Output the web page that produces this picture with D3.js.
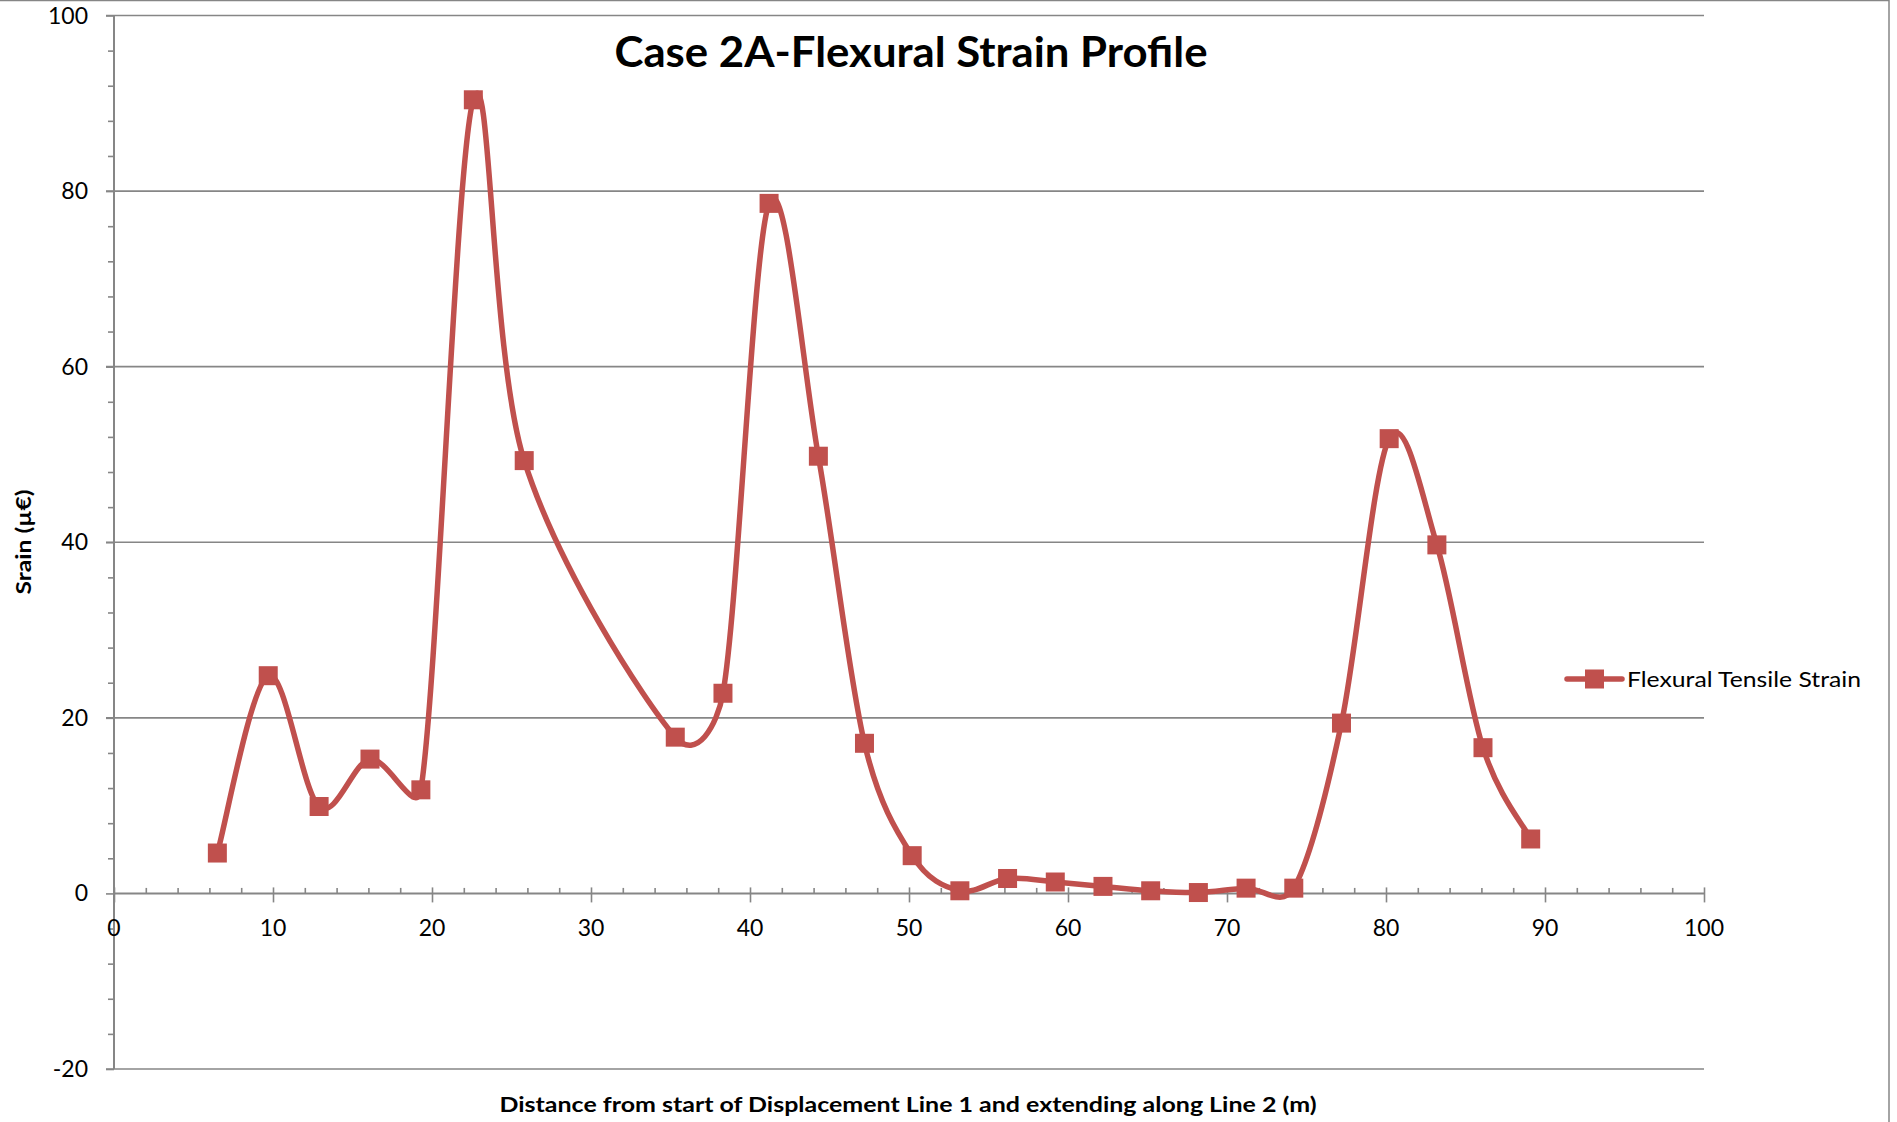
<!DOCTYPE html>
<html lang="en">
<head>
  <meta charset="UTF-8" />
  <title>Case 2A-Flexural Strain Profile</title>
  <script src="https://d3js.org/d3.v7.min.js"></script>
  <style>
    body {
      margin: 0;
      background: #fff;
      font-family: Lato, "Open Sans", sans-serif;
    }

    svg {
      display: block;
    }

    text {
      fill: #000;
    }
  </style>
</head>

<body>
  <svg id="chart"></svg>

  <script>
    // distance along line (m)
    const distance = [6.5, 9.7, 12.9, 16.1, 19.3, 22.6, 25.8, 35.3, 38.3, 41.2, 44.3, 47.2, 50.2,
      53.2, 56.2, 59.2, 62.2, 65.2, 68.2, 71.2, 74.2, 77.2, 80.2, 83.2, 86.1, 89.1];
    // flexural tensile strain (µ€)
    const strain = [4.6, 24.8, 9.9, 15.3, 11.8, 90.4, 49.3, 17.8, 22.8, 78.6, 49.8, 17.1, 4.3,
      0.3, 1.7, 1.3, 0.8, 0.3, 0.1, 0.6, 0.6, 19.4, 51.8, 39.7, 16.6, 6.2];

    const xTicks = [0, 10, 20, 30, 40, 50, 60, 70, 80, 90, 100];
    const yTicks = [-20, 0, 20, 40, 60, 80, 100];

    const seriesName = "Flexural Tensile Strain";
    const chartTitle = "Case 2A-Flexural Strain Profile";
    const xTitle = "Distance from start of Displacement Line 1 and extending along Line 2 (m)";
    const yTitle = "Srain (µ€)";

    const W = 1897, H = 1122;
    const plotL = 114, plotR = 1704, plotT = 15.5, plotB = 1069;
    const red = "#C0504D", axisGrey = "#868686";

    const svg = d3.select("#chart").attr("width", W).attr("height", H);

    const x = d3.scaleLinear().domain([0, 100]).range([plotL, plotR]);
    const y = d3.scaleLinear().domain([-20, 100]).range([plotB, plotT]);

    // Excel-style smoothed line: bezier handles of 1/6 the chord,
    // capped at half the segment length so short segments don't overshoot
    function smoothPath(pts) {
      const p = d3.path();
      const n = pts.length;
      const dist = (a, b) => Math.hypot(b[0] - a[0], b[1] - a[1]);
      p.moveTo(pts[0][0], pts[0][1]);
      for (let i = 0; i < n - 1; i++) {
        const p0 = pts[Math.max(i - 1, 0)], p1 = pts[i], p2 = pts[i + 1], p3 = pts[Math.min(i + 2, n - 1)];
        const d02 = dist(p0, p2), d12 = dist(p1, p2), d13 = dist(p1, p3);
        let f1 = 1 / 6, f2 = 1 / 6;
        if (d02 / 6 > d12 / 2) f1 = d02 ? d12 / 2 / d02 : 0;
        if (d13 / 6 > d12 / 2) f2 = d13 ? d12 / 2 / d13 : 0;
        p.bezierCurveTo(
          p1[0] + (p2[0] - p0[0]) * f1, p1[1] + (p2[1] - p0[1]) * f1,
          p2[0] - (p3[0] - p1[0]) * f2, p2[1] - (p3[1] - p1[1]) * f2,
          p2[0], p2[1]);
      }
      return p.toString();
    }

    // outer chart frame (top + right edges visible)
    svg.append("rect")
      .attr("x", -2).attr("y", 0.5)
      .attr("width", 1891).attr("height", H + 10)
      .attr("fill", "none").attr("stroke", axisGrey).attr("stroke-width", 1.5);

    // horizontal gridlines
    svg.append("g")
      .selectAll("line")
      .data(yTicks.filter(d => d !== 0))
      .join("line")
      .attr("x1", plotL - 8).attr("x2", plotR)
      .attr("y1", d => y(d)).attr("y2", d => y(d))
      .attr("stroke", axisGrey).attr("stroke-width", 1.6);

    // y axis: major ticks + minor ticks every 4
    const yAxis = svg.append("g").attr("transform", `translate(${plotL},0)`)
      .call(d3.axisLeft(y).tickValues(d3.range(-20, 101, 4)).tickSize(6).tickFormat(""));
    yAxis.select(".domain").remove();
    yAxis.selectAll("line").attr("stroke", axisGrey).attr("stroke-width", 1.6);
    yAxis.selectAll(".tick").filter(d => d % 20 === 0).select("line").attr("x2", -8);

    svg.append("line")
      .attr("x1", plotL).attr("x2", plotL).attr("y1", plotT).attr("y2", plotB)
      .attr("stroke", axisGrey).attr("stroke-width", 2);

    svg.append("g")
      .selectAll("text")
      .data(yTicks)
      .join("text")
      .attr("x", 88).attr("y", d => y(d))
      .attr("dy", "0.35em")
      .attr("text-anchor", "end")
      .attr("font-size", 23)
      .text(d => d);

    // x axis at zero: minor ticks (inside) every 2, majors cross the axis
    const xAxis = svg.append("g").attr("transform", `translate(0,${y(0)})`)
      .call(d3.axisTop(x).tickValues(d3.range(0, 101, 2)).tickSize(5.5).tickFormat(""));
    xAxis.select(".domain").remove();
    xAxis.selectAll("line").attr("stroke", axisGrey).attr("stroke-width", 1.6);
    xAxis.selectAll(".tick").filter(d => d % 10 === 0).select("line")
      .attr("y1", 9).attr("y2", -6);

    svg.append("line")
      .attr("x1", plotL).attr("x2", plotR).attr("y1", y(0)).attr("y2", y(0))
      .attr("stroke", axisGrey).attr("stroke-width", 2);

    svg.append("g")
      .selectAll("text")
      .data(xTicks)
      .join("text")
      .attr("x", d => x(d)).attr("y", 936)
      .attr("text-anchor", "middle")
      .attr("font-size", 23)
      .text(d => d);

    // series
    const points = distance.map((d, i) => [d, strain[i]]);
    const pixelPts = points.map(d => [x(d[0]), y(d[1])]);

    svg.append("path")
      .attr("d", smoothPath(pixelPts))
      .attr("fill", "none")
      .attr("stroke", red)
      .attr("stroke-width", 5.5)
      .attr("stroke-linejoin", "round")
      .attr("stroke-linecap", "round");

    const ms = 19;
    svg.append("g")
      .selectAll("rect")
      .data(points)
      .join("rect")
      .attr("x", d => x(d[0]) - ms / 2)
      .attr("y", d => y(d[1]) - ms / 2)
      .attr("width", ms).attr("height", ms)
      .attr("fill", red);

    // titles
    svg.append("text")
      .attr("x", 911).attr("y", 67)
      .attr("text-anchor", "middle")
      .attr("font-size", 42).attr("font-weight", "bold")
      .attr("textLength", 593).attr("lengthAdjust", "spacingAndGlyphs")
      .text(chartTitle);

    svg.append("text")
      .attr("x", 908).attr("y", 1112)
      .attr("text-anchor", "middle")
      .attr("font-size", 21).attr("font-weight", "bold")
      .attr("textLength", 817).attr("lengthAdjust", "spacingAndGlyphs")
      .text(xTitle);

    svg.append("text")
      .attr("transform", "translate(31,542) rotate(-90)")
      .attr("text-anchor", "middle")
      .attr("font-size", 21).attr("font-weight", "bold")
      .attr("textLength", 105).attr("lengthAdjust", "spacingAndGlyphs")
      .text(yTitle);

    // legend
    const lg = svg.append("g").attr("transform", "translate(1567,679)");
    lg.append("line")
      .attr("x1", 0).attr("x2", 55)
      .attr("stroke", red).attr("stroke-width", 5.5).attr("stroke-linecap", "round");
    lg.append("rect")
      .attr("x", 27.5 - 9.5).attr("y", -9.5).attr("width", 19).attr("height", 19)
      .attr("fill", red);
    lg.append("text")
      .attr("x", 60).attr("dy", "0.35em")
      .attr("font-size", 22)
      .attr("textLength", 234).attr("lengthAdjust", "spacingAndGlyphs")
      .text(seriesName);
  </script>
</body>
</html>
